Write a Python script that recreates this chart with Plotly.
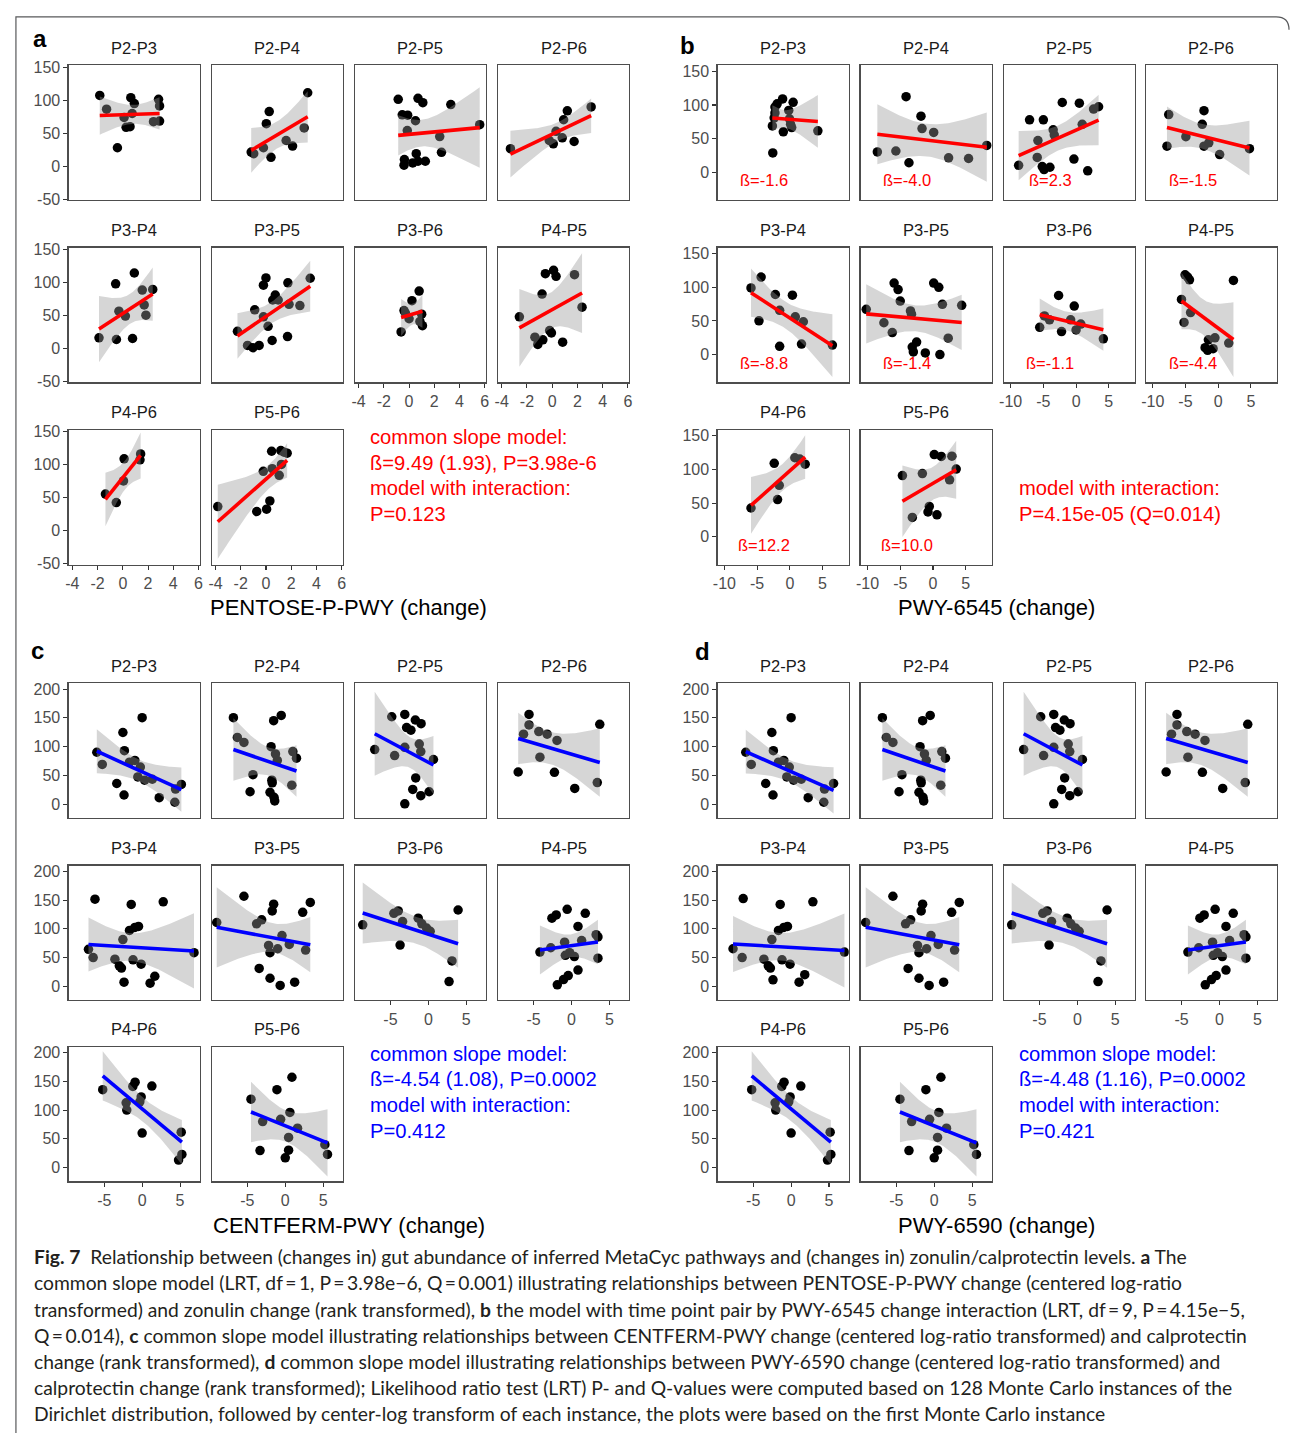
import numpy as np
import plotly.graph_objects as go

W, H = 1293, 1441
PAIRS = ["P2-P3", "P2-P4", "P2-P5", "P2-P6", "P3-P4", "P3-P5", "P3-P6", "P4-P5", "P4-P6", "P5-P6"]

# ---------------- panel a : PENTOSE-P-PWY vs zonulin ----------------
a_x = {
    "P2-P3": [-1.83, -1.29, 0.63, 0.91, 0.10, 0.74, 0.26, 0.57, -0.43, 2.83, 2.91, 2.43, 2.91],
    "P2-P4": [3.31, 0.26, 0.03, -1.17, -0.97, -0.20, 0.40, 1.60, 2.11, 3.03],
    "P2-P5": [-0.86, 0.71, 1.09, 3.31, -0.54, -0.11, 0.51, -0.14, 5.60, 2.43, 2.57, 0.57, -0.37, -0.40, 0.29, 0.71, 1.29],
    "P2-P6": [-3.31, 3.09, 1.20, 0.91, 0.31, -0.23, 0.09, 0.80, 1.74],
    "P3-P4": [0.91, -0.57, 1.54, 2.37, 1.69, 1.83, -0.31, 0.20, -1.89, -0.51, 0.77],
    "P3-P5": [0.00, -0.20, 1.74, 3.51, -0.89, 0.74, 0.54, 0.97, 1.83, 2.69, -0.20, 0.17, -2.26, 0.49, 1.71, -1.46, -1.03, -0.54],
    "P3-P6": [0.80, 0.23, -0.40, -0.29, 0.00, 1.00, 0.86, 1.06, -0.63],
    "P4-P5": [-0.54, 0.11, 0.31, 1.77, -0.80, 2.37, -2.60, -0.20, -0.06, -1.37, -0.74, -1.14, 0.83],
    "P4-P6": [0.10, 1.41, 1.36, 0.05, -1.38, -0.52],
    "P5-P6": [0.45, 1.18, 1.44, 1.68, 1.23, 0.50, -0.21, 1.05, -3.82, 0.31, 0.05, -0.73],
}
a_y = {
    "P2-P3": [107.5, 86.5, 104, 95, 74, 80, 59, 60, 28, 101.5, 91.5, 67.5, 68.5],
    "P2-P4": [111.5, 83, 64.5, 21.5, 19, 28, 13.5, 39, 30.5, 58],
    "P2-P5": [101.5, 103, 96.5, 93.5, 78, 77.5, 69, 54, 63, 45, 21, 19, 10, 1.5, 5, 7.5, 7.5],
    "P2-P6": [26.5, 90, 84, 70.5, 53, 39, 34, 43, 37.5],
    "P3-P4": [114.5, 98, 88.5, 89.5, 66, 50.5, 56.5, 49, 16, 13.5, 15],
    "P3-P5": [107, 96, 99.5, 106.5, 58.5, 81, 73.5, 73.5, 67, 65, 48, 33.5, 26, 12, 18, 4.5, 1, 4.5],
    "P3-P6": [87, 72.5, 57.5, 53.5, 45, 52, 41, 34.5, 25],
    "P4-P5": [113.5, 118.5, 109.5, 112, 82.5, 62.5, 48, 27, 23.5, 17, 13, 6, 9.5],
    "P4-P6": [109, 116.5, 107.5, 75.5, 55.5, 42.5],
    "P5-P6": [120.5, 121.5, 119, 117.5, 100.5, 94, 90, 84, 36.5, 45, 32.5, 29],
}
a_xticks = [-4, -2, 0, 2, 4, 6]
a_yticks = [-50, 0, 50, 100, 150]
a_text = ["common slope model:", "ß=9.49 (1.93), P=3.98e-6", "model with interaction:", "P=0.123"]

# ---------------- panel b : PWY-6545 vs zonulin ----------------
b_x = {
    "P2-P3": [-1.11, -1.94, -2.28, 0.50, -0.17, -2.28, -2.40, -0.06, 0.11, 0.28, -2.67, -1.00, 4.28, -2.61],
    "P2-P4": [-4.11, -1.83, -1.67, 0.11, -8.50, -5.67, -3.67, 2.39, 5.44, 8.22],
    "P2-P5": [-2.11, 0.50, 3.44, 2.67, -7.11, -5.00, 0.94, -3.50, -3.33, -5.83, -5.94, -8.78, -5.17, -4.00, -4.89, -0.33, 1.78],
    "P2-P6": [-7.56, -2.17, -2.44, -4.94, -7.83, -2.17, -1.44, 0.22, 4.78],
    "P3-P4": [-4.39, -5.94, -2.22, 0.39, -1.56, 0.83, 2.06, -4.72, -1.56, 1.78, 6.50],
    "P3-P5": [-5.94, -5.33, -5.00, 0.11, 0.89, -10.2, -3.44, -3.28, 1.44, 4.39, -7.50, -6.22, 2.33, -2.50, -3.17, -3.00, -1.17, 1.06],
    "P3-P6": [-2.67, -0.28, -4.83, -4.06, -0.83, 0.72, 0.00, -5.56, -2.22, 4.17],
    "P4-P5": [-5.06, -4.67, -4.39, 2.33, -5.61, -4.22, -5.22, -0.50, -1.50, 1.61, -2.00, -1.61, -0.78],
    "P4-P6": [-2.39, 0.76, 1.52, 2.34, -1.62, -1.88, -5.94],
    "P5-P6": [0.20, 1.27, 2.89, -4.67, -1.62, 3.55, 2.54, -0.56, -0.76, 0.61, -3.15],
}
b_y = {
    "P2-P3": [109, 101.8, 97, 104, 92, 88.3, 81, 79.6, 71.4, 66.5, 69, 60.3, 61.7, 29],
    "P2-P4": [112.4, 83.4, 65.1, 59.3, 30.4, 31.8, 14.4, 21.7, 20.7, 40],
    "P2-P5": [103.7, 102.7, 97.4, 94, 78.1, 78.1, 71.4, 63.2, 55.5, 47.3, 22.2, 10.6, 8.7, 7.7, 4.3, 19.8, 2.4],
    "P2-P6": [85.8, 91.6, 71.4, 53, 39, 39, 43.9, 26.5, 35.2],
    "P3-P4": [115, 98.9, 89.2, 88.2, 65.8, 56.1, 48.8, 50.2, 12.3, 15.7, 14.2],
    "P3-P5": [106.2, 96.5, 79.4, 106.2, 99.9, 67.3, 64.8, 60, 74.6, 73.1, 47.3, 32.7, 24.5, 18.6, 11.3, 4, 2.6, 0.1],
    "P3-P6": [87.7, 72.1, 57.5, 51.7, 51.7, 45.4, 36.6, 40.5, 34.2, 23.5],
    "P4-P5": [118.4, 115, 111, 110, 81.9, 62.4, 47.8, 25, 22, 17.2, 10.3, 6.4, 8.8],
    "P4-P6": [109.1, 117.3, 115.4, 107.7, 76.4, 55.3, 42.8],
    "P5-P6": [122.1, 119.2, 119.7, 90.9, 93.8, 100.5, 84.6, 45.2, 37, 32.7, 28.8],
}
b_beta = ["ß=-1.6", "ß=-4.0", "ß=2.3", "ß=-1.5", "ß=-8.8", "ß=-1.4", "ß=-1.1", "ß=-4.4", "ß=12.2", "ß=10.0"]
b_xticks = [-10, -5, 0, 5]
b_yticks = [0, 50, 100, 150]
b_text = ["model with interaction:", "P=4.15e-05 (Q=0.014)"]

# ---------------- panel c : CENTFERM-PWY vs calprotectin ----------------
c_x = {
    "P2-P3": [0.00, -2.54, -5.98, -5.26, -2.34, -1.67, -0.96, -0.24, -0.57, 0.33, 1.34, -3.35, -2.39, 2.25, 4.40, 5.17, 4.31],
    "P2-P4": [-6.84, -1.53, -0.53, -6.32, -5.45, -1.87, -1.29, -1.05, 1.00, 1.48, -4.26, -1.77, -1.72, 0.86, -4.64, -2.01, -1.48, -1.39],
    "P2-P5": [-4.83, -3.11, -1.72, -0.96, -2.87, -2.30, -7.08, -4.45, -3.11, -1.20, -1.00, 0.67, -1.67, -2.06, -1.00, 0.10, -3.11],
    "P2-P6": [-5.60, -5.60, -6.32, -4.31, -3.21, -1.91, 3.73, -4.16, -7.03, -2.25, 0.43, 3.40],
    "P3-P4": [-6.22, -1.44, 2.78, -1.67, -0.96, -0.48, -2.54, -7.08, -6.46, -3.59, -3.01, -2.73, -1.20, -0.14, -2.39, 1.05, 1.67, 6.84],
    "P3-P5": [-9.04, -5.45, -1.53, -1.72, 2.30, 3.30, -3.78, -3.11, -0.43, 0.53, -2.20, -1.00, -2.01, 2.68, -3.44, -2.01, -0.67, 1.24],
    "P3-P6": [-8.66, -4.55, -3.97, -3.40, -3.73, -1.34, -0.86, -0.24, 0.24, 3.92, 3.11, 2.73],
    "P4-P5": [-2.58, -2.01, -0.57, 1.82, 0.86, -4.16, -2.73, -0.91, 1.34, 3.25, 3.49, -0.81, 0.38, -0.24, 3.49, 0.86, -1.87, -1.05, -0.43],
    "P4-P6": [-5.20, -1.23, -0.93, 1.28, -0.13, -0.31, -2.11, -2.03, 0.00, 5.15, 5.24, 4.80],
    "P5-P6": [0.88, -1.10, -4.52, 0.61, -0.61, -2.98, 1.62, 0.44, 0.44, 0.00, -3.33, 5.22, 5.57],
}
c_y = {
    "P2-P3": [150.3, 124.6, 90.3, 69.1, 93.1, 73.1, 76, 64.6, 47.4, 41.7, 43.4, 36, 16, 11.4, 26.3, 34.3, 3.4],
    "P2-P4": [150.3, 145.1, 154.3, 116, 107.4, 100, 87.4, 76, 91.4, 80, 51.4, 41.7, 37.1, 33.1, 21.7, 20.6, 12, 5.7],
    "P2-P5": [152, 156, 146.3, 140, 133.1, 128.6, 94.9, 84.6, 98.9, 104.6, 91.4, 77.7, 45.7, 25.7, 14.9, 21.7, 0.6],
    "P2-P6": [156, 137.7, 121.7, 126.3, 121.7, 110.9, 138.9, 81.7, 56, 55.4, 27.4, 37.7],
    "P3-P4": [151.6, 142.5, 147, 97.4, 102.6, 104.3, 81.5, 64.4, 50.1, 47.3, 35.9, 31.9, 46.2, 38.7, 7.4, 5.7, 17.7, 58.7],
    "P3-P5": [111.1, 156.7, 143, 131.1, 128.8, 145.9, 108.8, 115.7, 88.3, 72.9, 71.2, 65.5, 58.7, 63.2, 31.3, 14.2, 1.7, 7.4],
    "P3-P6": [107.1, 127.1, 131.1, 112.8, 71.8, 118.5, 108.8, 101.4, 95.7, 132.8, 44.4, 8.5],
    "P4-P5": [118.5, 124.2, 133.9, 127.1, 104.3, 59.8, 67.2, 76.9, 79.8, 90, 86, 54.1, 51.9, 58.7, 49, 28.5, 2.8, 12, 18.8],
    "P4-P6": [135.4, 141.1, 148.6, 141.7, 122.9, 114.3, 112.6, 100, 60, 61.7, 22.9, 13.1],
    "P5-P6": [157.1, 135.4, 118.9, 96, 84, 80, 68.6, 52.6, 30.3, 17.1, 29.7, 40, 22.9],
}
c_xticks = [-5, 0, 5]
c_yticks = [0, 50, 100, 150, 200]
c_text = ["common slope model:", "ß=-4.54 (1.08), P=0.0002", "model with interaction:", "P=0.412"]

# ---------------- panel d : PWY-6590 vs calprotectin ----------------
d_x = {
    "P2-P3": [0.00, -2.54, -5.98, -5.26, -2.34, -1.67, -0.96, -0.24, -0.57, 0.33, 1.34, -3.35, -2.39, 2.25, 4.40, 5.60, 4.31],
    "P2-P4": [-6.84, -1.53, -0.53, -6.32, -5.45, -1.87, -1.29, -1.05, 1.00, 1.48, -4.26, -1.77, -1.72, 0.86, -4.64, -2.01, -1.48, -1.39],
    "P2-P5": [-4.83, -3.11, -1.72, -0.96, -2.87, -2.30, -7.08, -4.45, -3.11, -1.20, -1.00, 0.67, -1.67, -2.06, -1.00, 0.10, -3.11],
    "P2-P6": [-5.60, -5.60, -6.32, -4.31, -3.21, -1.91, 3.73, -4.16, -7.03, -2.25, 0.43, 3.40],
    "P3-P4": [-6.32, -1.44, 2.87, -1.67, -0.96, -0.48, -2.54, -7.66, -6.46, -3.59, -3.01, -2.73, -1.20, -0.14, -2.39, 1.05, 1.80, 7.03],
    "P3-P5": [-9.04, -5.45, -1.53, -1.72, 2.30, 3.30, -3.78, -3.11, -0.43, 0.53, -2.20, -1.00, -2.01, 2.68, -3.44, -2.01, -0.67, 1.24],
    "P3-P6": [-8.66, -4.55, -3.97, -3.40, -3.73, -1.34, -0.86, -0.24, 0.24, 3.92, 3.11, 2.73],
    "P4-P5": [-2.58, -2.01, -0.57, 1.82, 0.86, -4.16, -2.73, -0.91, 1.34, 3.25, 3.49, -0.81, 0.38, -0.24, 3.49, 0.86, -1.87, -1.05, -0.43],
    "P4-P6": [-5.20, -1.23, -0.93, 1.28, -0.13, -0.31, -2.11, -2.03, 0.00, 5.15, 5.24, 4.80],
    "P5-P6": [0.88, -1.10, -4.52, 0.61, -0.61, -2.98, 1.62, 0.44, 0.44, 0.00, -3.33, 5.22, 5.57],
}
d_y = {
    "P2-P3": [150.3, 124.6, 90.3, 69.1, 93.1, 73.1, 76, 64.6, 47.4, 41.7, 43.4, 36, 16, 11.4, 26.3, 36, 3.4],
    "P2-P4": [150.3, 145.1, 154.3, 116, 107.4, 100, 87.4, 76, 91.4, 80, 51.4, 41.7, 37.1, 33.1, 21.7, 20.6, 12, 5.7],
    "P2-P5": [152, 156, 146.3, 140, 133.1, 128.6, 94.9, 84.6, 98.9, 104.6, 91.4, 77.7, 45.7, 25.7, 14.9, 21.7, 0.6],
    "P2-P6": [156, 137.7, 121.7, 126.3, 121.7, 110.9, 138.9, 81.7, 56, 55.4, 27.4, 37.7],
    "P3-P4": [152.7, 142.5, 147, 97.4, 102.6, 104.3, 81.5, 65.5, 50.1, 47.3, 35.9, 31.9, 46.2, 38.7, 11.4, 7.4, 20.5, 59.8],
    "P3-P5": [111.1, 156.7, 143, 131.1, 128.8, 145.9, 108.8, 115.7, 88.3, 72.9, 71.2, 65.5, 58.7, 63.2, 31.3, 14.2, 1.7, 7.4],
    "P3-P6": [107.1, 127.1, 131.1, 112.8, 71.8, 118.5, 108.8, 101.4, 95.7, 132.8, 44.4, 8.5],
    "P4-P5": [118.5, 124.2, 133.9, 127.1, 104.3, 59.8, 67.2, 76.9, 79.8, 90, 86, 54.1, 51.9, 58.7, 49, 28.5, 2.8, 12, 18.8],
    "P4-P6": [135.4, 141.1, 148.6, 141.7, 122.9, 114.3, 112.6, 100, 60, 61.7, 22.9, 13.1],
    "P5-P6": [157.1, 135.4, 118.9, 96, 84, 80, 68.6, 52.6, 30.3, 17.1, 29.7, 40, 22.9],
}
d_text = ["common slope model:", "ß=-4.48 (1.16), P=0.0002", "model with interaction:", "P=0.421"]

caption_lines = [
    "<b>Fig. 7</b>  Relationship between (changes in) gut abundance of inferred MetaCyc pathways and (changes in) zonulin/calprotectin levels. <b>a</b> The",
    "common slope model (LRT, df\u2009=\u20091, P\u2009=\u20093.98e\u22126, Q\u2009=\u20090.001) illustrating relationships between PENTOSE-P-PWY change (centered log-ratio",
    "transformed) and zonulin change (rank transformed), <b>b</b> the model with time point pair by PWY-6545 change interaction (LRT, df\u2009=\u20099, P\u2009=\u20094.15e\u22125,",
    "Q\u2009=\u20090.014), <b>c</b> common slope model illustrating relationships between CENTFERM-PWY change (centered log-ratio transformed) and calprotectin",
    "change (rank transformed), <b>d</b> common slope model illustrating relationships between PWY-6590 change (centered log-ratio transformed) and",
    "calprotectin change (rank transformed); Likelihood ratio test (LRT) P- and Q-values were computed based on 128 Monte Carlo instances of the",
    "Dirichlet distribution, followed by center-log transform of each instance, the plots were based on the first Monte Carlo instance",
]

# ---------------- helpers ----------------
T975 = {1: 12.706, 2: 4.303, 3: 3.182, 4: 2.776, 5: 2.571, 6: 2.447, 7: 2.365, 8: 2.306, 9: 2.262,
        10: 2.228, 11: 2.201, 12: 2.179, 13: 2.160, 14: 2.145, 15: 2.131, 16: 2.120, 17: 2.110,
        18: 2.101, 19: 2.093, 20: 2.086, 21: 2.080, 22: 2.074, 23: 2.069, 24: 2.064, 25: 2.060}


def lm_band(x, y, npts=80):
    x = np.asarray(x, float)
    y = np.asarray(y, float)
    n = len(x)
    b, a = np.polyfit(x, y, 1)
    xs = np.linspace(x.min(), x.max(), npts)
    yh = a + b * xs
    resid = y - (a + b * x)
    s = np.sqrt((resid ** 2).sum() / (n - 2))
    sxx = ((x - x.mean()) ** 2).sum()
    se = s * np.sqrt(1.0 / n + (xs - x.mean()) ** 2 / sxx)
    t = T975[n - 2]
    return xs, yh, yh - t * se, yh + t * se


FONT = "Liberation Sans, Arial, sans-serif"
CAP_FONT = "Lato, Liberation Sans, sans-serif"
BW, BH = 132, 136
LEFT_COLS = [64, 208, 352, 496]
RIGHT_COLS = [717, 861, 1005, 1148]
TOP_ROWS = [60, 244, 428]
BOT_ROWS = [684, 868, 1051]

panels = [
    dict(xd=a_x, yd=a_y, cols=LEFT_COLS, rows=TOP_ROWS, xr=[-4.3, 6.1], yr=[-51.5, 153],
         xt=a_xticks, yt=a_yticks, col="#ff0000", beta=None),
    dict(xd=b_x, yd=b_y, cols=RIGHT_COLS, rows=TOP_ROWS, xr=[-11.05, 9.0], yr=[-41, 158.7],
         xt=b_xticks, yt=b_yticks, col="#ff0000", beta=b_beta),
    dict(xd=c_x, yd=c_y, cols=LEFT_COLS, rows=BOT_ROWS, xr=[-9.7, 7.6], yr=[-24, 210],
         xt=c_xticks, yt=c_yticks, col="#0000ff", beta=None),
    dict(xd=d_x, yd=d_y, cols=RIGHT_COLS, rows=BOT_ROWS, xr=[-9.7, 7.6], yr=[-24, 210],
         xt=c_xticks, yt=c_yticks, col="#0000ff", beta=None),
]


def fx(px):
    return px / W


def fy(py):
    return 1 - py / H


fig = go.Figure()
layout_axes = {}
annotations = []
k = 0
for p in panels:
    for i, pair in enumerate(PAIRS):
        k += 1
        row, colx = (i // 4, i % 4) if i < 8 else (2, i - 8)
        l = p["cols"][colx]
        t = p["rows"][row]
        showx = (row == 2) or (row == 1 and colx >= 2)
        showy = colx == 0
        xa = "xaxis" if k == 1 else f"xaxis{k}"
        ya = "yaxis" if k == 1 else f"yaxis{k}"
        xref = "x" if k == 1 else f"x{k}"
        yref = "y" if k == 1 else f"y{k}"
        common = dict(showline=True, mirror=True, linecolor="#4d4d4d", linewidth=1.2,
                      showgrid=False, zeroline=False, ticklen=4, tickwidth=1.1, tickcolor="#333333",
                      tickfont=dict(size=16, color="#4d4d4d", family=FONT), fixedrange=True)
        layout_axes[xa] = dict(common, domain=[fx(l), fx(l + BW)], range=p["xr"], anchor=yref,
                               tickmode="array",
                               tickvals=p["xt"] if showx else [],
                               ticktext=[str(v) for v in p["xt"]] if showx else [],
                               ticks="outside" if showx else "", showticklabels=showx)
        layout_axes[ya] = dict(common, domain=[fy(t + BH), fy(t)], range=p["yr"], anchor=xref,
                               tickmode="array",
                               tickvals=p["yt"] if showy else [],
                               ticktext=[str(v) for v in p["yt"]] if showy else [],
                               ticks="outside" if showy else "", showticklabels=showy)
        xs_pts, ys_pts = p["xd"][pair], p["yd"][pair]
        fig.add_trace(go.Scatter(x=xs_pts, y=ys_pts, mode="markers", xaxis=xref, yaxis=yref,
                                 marker=dict(size=9.5, color="#000000", line=dict(width=0)),
                                 showlegend=False, hoverinfo="skip"))
        xs, yh, lo, up = lm_band(xs_pts, ys_pts)
        fig.add_trace(go.Scatter(x=np.concatenate([xs, xs[::-1]]), y=np.concatenate([up, lo[::-1]]),
                                 mode="lines", fill="toself", fillcolor="rgba(153,153,153,0.4)",
                                 line=dict(width=0), xaxis=xref, yaxis=yref, showlegend=False,
                                 hoverinfo="skip"))
        fig.add_trace(go.Scatter(x=xs, y=yh, mode="lines", line=dict(color=p["col"], width=3.6),
                                 xaxis=xref, yaxis=yref, showlegend=False, hoverinfo="skip"))
        annotations.append(dict(x=fx(l + BW / 2), y=fy(t - 18), xref="paper", yref="paper", text=pair,
                                showarrow=False, xanchor="center", yanchor="middle",
                                font=dict(size=16.5, color="#1a1a1a", family=FONT)))
        if p["beta"] is not None:
            annotations.append(dict(x=fx(l + 47), y=fy(t + 116), xref="paper", yref="paper",
                                    text=p["beta"][i], showarrow=False, xanchor="center", yanchor="middle",
                                    font=dict(size=16.5, color="#ff0000", family=FONT)))

# axis titles
for txt, xc, yc in [("PENTOSE-P-PWY (change)", 346, 607), ("PWY-6545 (change)", 998, 607),
                    ("CENTFERM-PWY (change)", 346, 1231), ("PWY-6590 (change)", 998, 1231)]:
    annotations.append(dict(x=fx(xc), y=fy(yc), xref="paper", yref="paper", text=txt, showarrow=False,
                            xanchor="center", yanchor="middle", font=dict(size=22, color="#000000", family=FONT)))

# panel letters
for txt, xc, yc in [("a", 35, 33), ("b", 687, 40), ("c", 33, 651), ("d", 702, 652)]:
    annotations.append(dict(x=fx(xc), y=fy(yc), xref="paper", yref="paper", text=f"<b>{txt}</b>",
                            showarrow=False, xanchor="center", yanchor="middle",
                            font=dict(size=24, color="#000000", family=FONT)))

# model text blocks
for lines, x0, ys, colr in [(a_text, 365, [435, 461, 487, 513], "#ff0000"),
                            (b_text, 1018, [487, 513], "#ff0000"),
                            (c_text, 365, [1058, 1084, 1110, 1136], "#0000ff"),
                            (d_text, 1018, [1058, 1084, 1110, 1136], "#0000ff")]:
    for s, yy in zip(lines, ys):
        annotations.append(dict(x=fx(x0), y=fy(yy), xref="paper", yref="paper", text=s, showarrow=False,
                                xanchor="left", yanchor="middle",
                                font=dict(size=20.2, color=colr, family=FONT)))

# caption
for j, s in enumerate(caption_lines):
    annotations.append(dict(x=fx(27), y=fy(1263 + j * 26.4), xref="paper", yref="paper", text=s,
                            showarrow=False, xanchor="left", yanchor="middle",
                            font=dict(size=19.3, color="#231f20", family=CAP_FONT)))

frame_path = (f"M {fx(11)},{fy(1441)} L {fx(11)},{fy(11)} L {fx(1279)},{fy(11)} "
              f"Q {fx(1292)},{fy(11)} {fx(1292)},{fy(24)}")
shapes = [dict(type="path", path=frame_path, xref="paper", yref="paper",
               line=dict(color="#58595b", width=1.2))]

fig.update_layout(width=W, height=H, autosize=False, margin=dict(l=0, r=0, t=0, b=0),
                  paper_bgcolor="white", plot_bgcolor="white", showlegend=False,
                  annotations=annotations, shapes=shapes, **layout_axes)

fig.write_html("out.html", config={"displayModeBar": False, "staticPlot": True},
               post_script="document.body.style.margin='0';document.body.style.overflow='hidden';")
